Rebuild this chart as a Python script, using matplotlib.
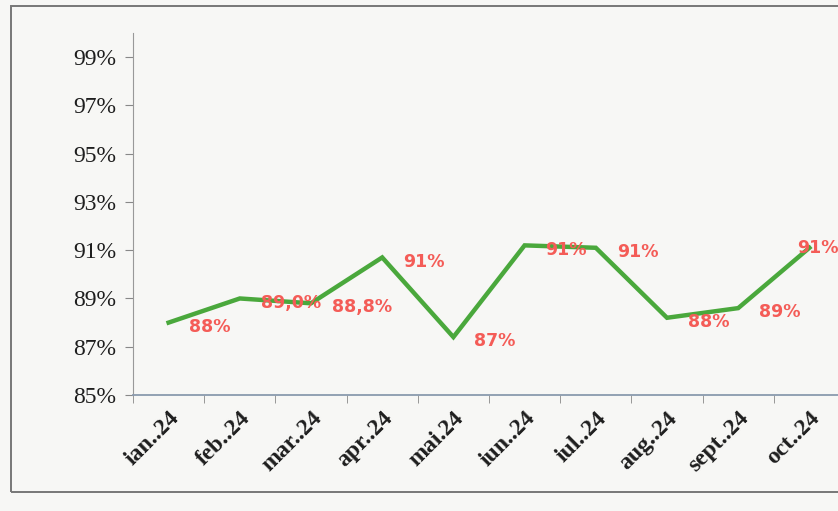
import matplotlib
matplotlib.use("Agg")
import matplotlib.pyplot as plt
from matplotlib.patches import Rectangle
from matplotlib.ticker import FixedLocator

months = ["ian..24", "feb..24", "mar..24", "apr..24", "mai.24", "iun..24",
          "iul..24", "aug..24", "sept..24", "oct..24"]
values = [88.0, 89.0, 88.8, 90.7, 87.4, 91.2, 91.1, 88.2, 88.6, 91.1]
labels = ["88%", "89,0%", "88,8%", "91%", "87%", "91%", "91%", "88%", "89%", "91%"]
yticks = [85, 87, 89, 91, 93, 95, 97, 99]

bg = "#f7f7f5"
fig = plt.figure(figsize=(8.38, 5.11), dpi=100, facecolor=bg)
# outer chart border
fig.patches.append(Rectangle((11/838, 19/511), 1.2, 486/511, transform=fig.transFigure,
                             fill=False, edgecolor="#777777", linewidth=1.4, zorder=0))

ax = fig.add_axes([133/838, 116/511, 712/838, 362/511], facecolor=bg)
x = list(range(len(months)))
ax.plot(x, values, color="#4aa83c", linewidth=3.2, solid_joinstyle="miter", zorder=3)

n = len(months)
for xi, v, lab in zip(x, values, labels):
    if xi == n - 1:
        off = (-9, 0)
    else:
        off = (15, -3)
    ax.annotate(lab, (xi, v), xytext=off, textcoords="offset points",
                ha="left", va="center", color="#f45c57", fontsize=12.5,
                fontweight="bold", family="DejaVu Sans", zorder=4)

ax.set_xlim(-0.5, n - 0.5)
ax.set_ylim(85, 100)
ax.set_yticks(yticks)
ax.set_yticklabels([f"{t}%" for t in yticks], family="Liberation Serif",
                   fontsize=17, color="#1e1e1e")
ax.set_xticks(x)
ax.set_xticklabels(months, rotation=45, ha="right", rotation_mode="anchor",
                   family="Liberation Serif", fontsize=17, fontweight="bold",
                   color="#1e1e1e")
ax.xaxis.set_minor_locator(FixedLocator([i - 0.5 for i in range(n + 1)]))
ax.tick_params(axis="x", which="major", length=0, pad=9)
ax.tick_params(axis="x", which="minor", length=6, color="#888888", direction="out")
ax.tick_params(axis="y", length=6, color="#888888", direction="out", pad=6)

for s in ["top", "right"]:
    ax.spines[s].set_visible(False)
ax.spines["left"].set_color("#999999")
ax.spines["bottom"].set_color("#8a9aae")
ax.spines["bottom"].set_linewidth(1.3)

fig.savefig("out.png", dpi=100, facecolor=bg)
